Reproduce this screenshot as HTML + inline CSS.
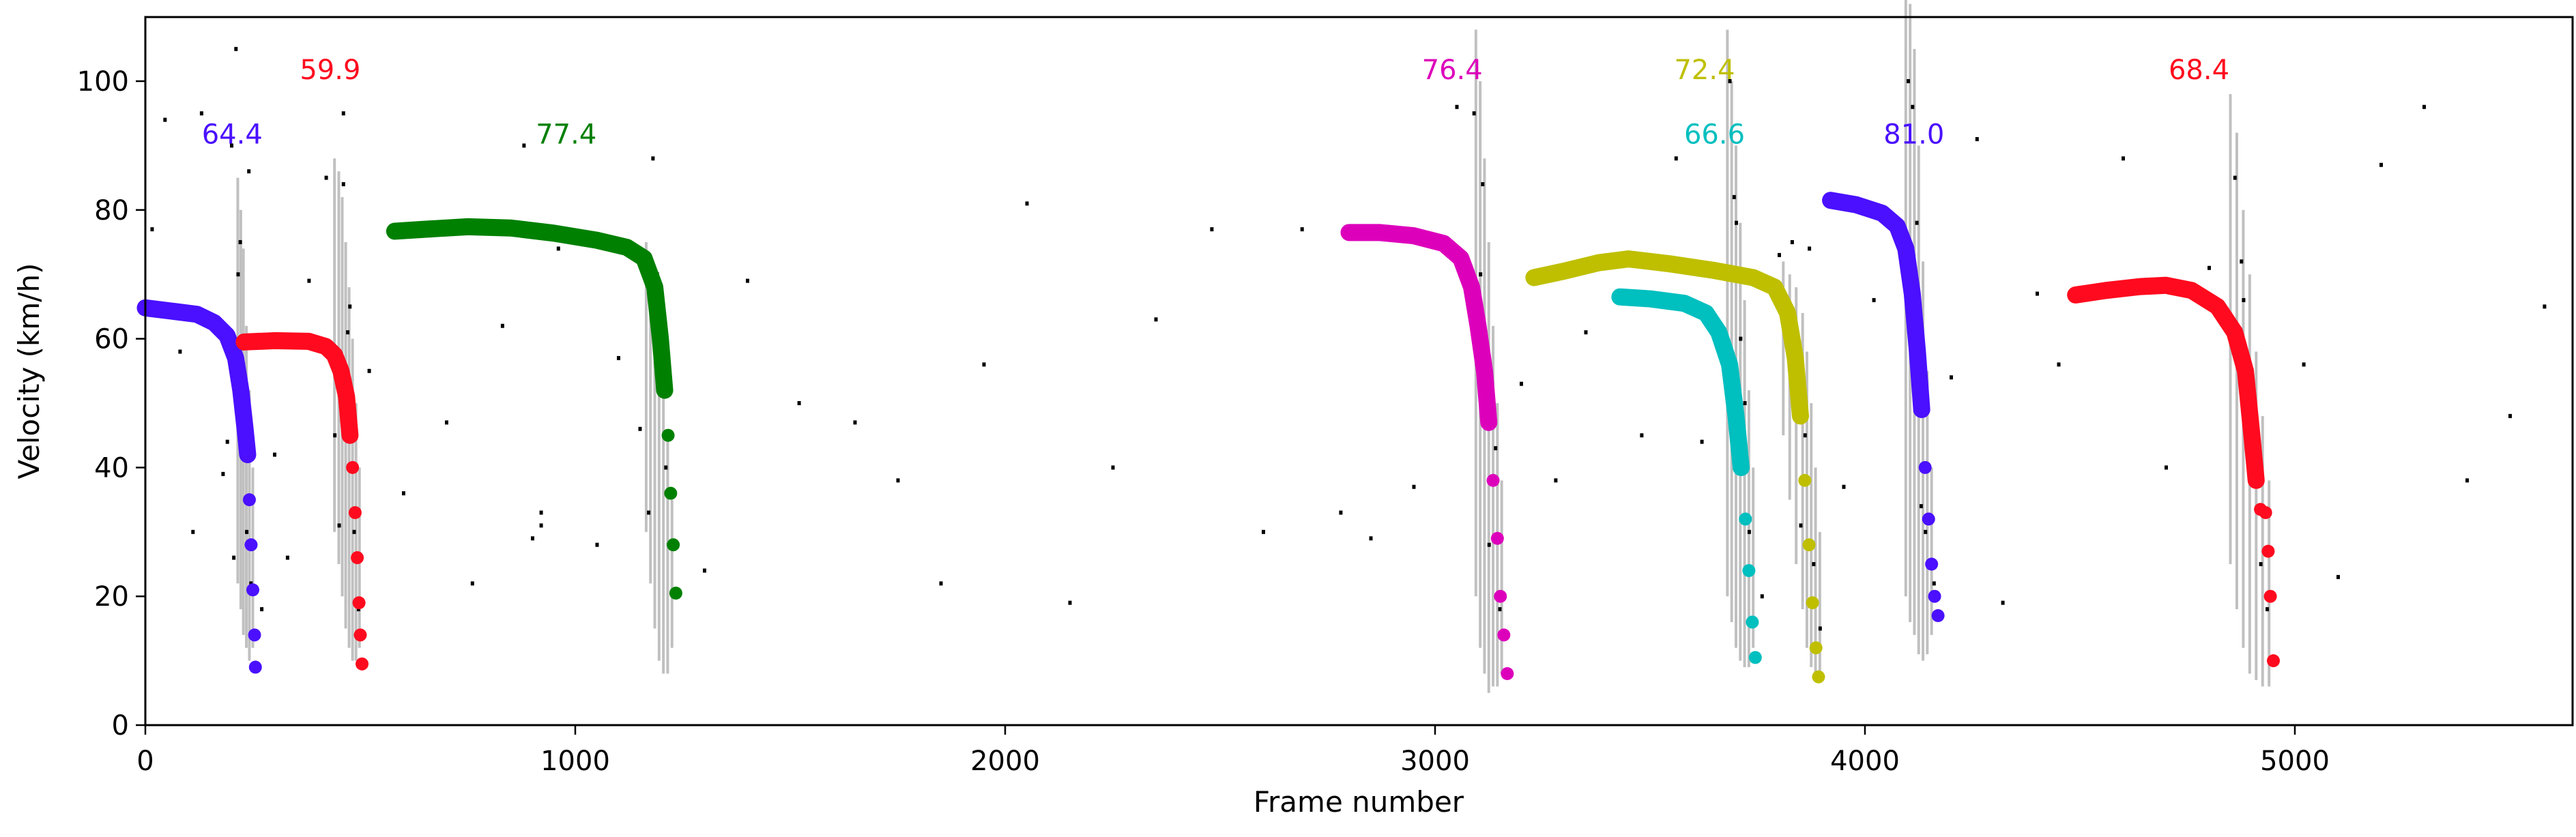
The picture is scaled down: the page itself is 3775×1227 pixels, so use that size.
<!DOCTYPE html>
<html><head><meta charset="utf-8">
<style>
html,body{margin:0;padding:0;background:#fff;}
svg text{font-family:"DejaVu Sans","Liberation Sans",sans-serif;}
</style></head>
<body>
<svg id="chart" width="3775" height="1222" viewBox="0 0 3775 1222" xmlns="http://www.w3.org/2000/svg">
<rect width="3775" height="1222" fill="#fff"/>
<g id="noise"></g>
<g id="tracks"></g>
<g id="labels"></g>
<rect x="213" y="25" width="3557" height="1038" fill="none" stroke="#000" stroke-width="3"/>
<g id="axes"></g>
<text x="1991" y="1190" font-size="42" text-anchor="middle">Frame number</text>
<text transform="translate(57,544) rotate(-90)" font-size="42" text-anchor="middle">Velocity (km/h)</text>
</svg>
<script>
const xTicks=[0,1000,2000,3000,4000,5000];
const yTicks=[0,20,40,60,80,100];
const trackNames=["blue-1","red-1","green","magenta","yellow","cyan","blue-2","red-2"];
const trackColors=["#4a10ff","#ff0a1e","#008000","#dd00bb","#bfbf00","#00bfbf","#4a10ff","#ff0a1e"];
const trackFrames=[
 [0,60,120,160,190,210,222,232,238,242,246,250,254,256],
 [230,300,380,420,440,455,468,476,482,488,493,497,500,504],
 [580,650,750,850,950,1050,1120,1160,1185,1198,1208,1216,1222,1228,1234],
 [2800,2870,2950,3020,3060,3085,3100,3115,3125,3135,3145,3152,3160,3168],
 [3230,3300,3380,3450,3550,3650,3740,3790,3820,3838,3850,3860,3870,3878,3886,3892],
 [3430,3500,3580,3630,3660,3685,3700,3712,3722,3730,3738,3745],
 [3920,3980,4040,4075,4095,4110,4122,4132,4140,4148,4155,4162,4170],
 [4490,4560,4640,4700,4760,4820,4860,4885,4900,4910,4920,4932,4938,4943,4950]
];
const trackValues=[
 [64.8,64.3,63.8,62.5,60.5,57,52,46,42,35,28,21,14,9],
 [59.5,59.7,59.6,58.8,57.5,55,51,45,40,33,26,19,14,9.5],
 [76.7,77.0,77.4,77.2,76.4,75.3,74.2,72.5,68,60,52,45,36,28,20.5],
 [76.5,76.5,76.0,74.8,72.5,68,62,55,47,38,29,20,14,8],
 [69.5,70.5,71.8,72.4,71.6,70.6,69.5,68,64,57,48,38,28,19,12,7.5],
 [66.5,66.2,65.5,64,61,56,48,40,32,24,16,10.5],
 [81.5,80.8,79.5,77.5,74,67,58,49,40,32,25,20,17],
 [66.8,67.5,68.1,68.3,67.5,65,61,55,45,38,33.5,33,27,20,10]
];
const trackSolid=[8,7,10,8,10,7,7,9];
const labelTexts=["64.4","59.9","77.4","76.4","72.4","66.6","81.0","68.4"];
const labelFrames=[202,430,979,3040,3627,3650,4114,4777];
const labelValues=[91.8,101.8,91.8,101.8,101.8,91.8,91.8,101.8];
const grayFrames=[215,222,228,235,242,250,440,450,458,466,474,482,490,498,1165,1175,1185,1195,1205,1215,1225,3095,3105,3115,3125,3135,3145,3155,3680,3690,3700,3710,3720,3730,3740,3810,3825,3840,3855,3865,3875,3885,3895,4095,4105,4115,4125,4135,4145,4155,4850,4865,4880,4895,4910,4925,4940];
const grayLow=[22,18,14,12,10,12,30,25,20,15,12,10,10,12,30,22,15,10,8,8,12,20,12,8,5,6,6,8,20,16,12,10,9,9,12,45,35,25,18,12,9,7,8,20,16,14,11,10,11,14,25,18,12,8,7,6,6];
const grayHigh=[85,80,74,62,52,40,88,86,82,75,68,60,50,40,75,72,66,58,52,44,35,108,100,88,75,62,50,38,108,100,90,78,66,52,40,72,70,68,64,58,50,40,30,115,112,105,90,72,55,40,98,92,80,70,58,48,38];
const dotFrames=[15,45,80,110,130,160,190,210,240,270,300,330,380,420,460,520,600,700,760,830,880,920,960,1050,1100,1300,1400,1520,1650,1750,1850,1950,2050,2150,2250,2350,2480,2600,2690,2780,2850,2950,3050,3200,3280,3350,3480,3560,3620,3760,3800,3950,4020,4200,4260,4320,4400,4450,4600,4700,4800,5020,5100,5200,5300,5400,5500,5580,180,205,215,450,470,3110,3140,3700,3720,4110,4130,4880,4910,1180,1200,3850,3870,200,220,235,245,225,460,475,485,495,440,1190,1210,1170,3090,3105,3125,3150,3685,3695,3710,3730,3830,3860,3880,3895,4100,4120,4140,4160,4860,4875,4895,4920,4935,900,920,1150];
const dotValues=[77,94,58,30,95,63,44,105,86,18,42,26,69,85,95,55,36,47,22,62,90,31,74,28,57,24,69,50,47,38,22,56,81,19,40,63,77,30,77,33,29,37,96,53,38,61,45,88,44,20,73,37,66,54,91,19,67,56,88,40,71,56,23,87,96,38,48,65,39,26,70,31,61,84,43,78,50,96,34,66,42,88,59,31,74,90,75,30,22,52,84,65,30,18,45,70,40,33,95,70,28,18,100,82,60,30,75,45,25,15,100,78,30,22,85,72,40,25,18,29,33,46];
const X0=213,PX=630,Y0=1063,PY=9.44;
const sx=f=>X0+f*PX/1000;
const sy=v=>Y0-v*PY;
const NS="http://www.w3.org/2000/svg";
function mk(t,a){const e=document.createElementNS(NS,t);for(const k in a)e.setAttribute(k,a[k]);return e;}
const noise=document.getElementById('noise');
grayFrames.forEach((f,i)=>{
 const l=mk('rect',{x:sx(f)-2,y:sy(grayHigh[i]),width:4,height:sy(grayLow[i])-sy(grayHigh[i]),fill:'#c0c0c0'});
 
 
 noise.appendChild(l);
});
dotFrames.forEach((f,i)=>{
 const d=mk('rect',{x:sx(f)-2,y:sy(dotValues[i])-3,width:5,height:6,fill:'#000'});
 
 
 noise.appendChild(d);
});
const tracks=document.getElementById('tracks');
trackFrames.forEach((fr,t)=>{
 const g=mk('g',{});
 
 
 const vals=trackValues[t];
 const pts=fr.map((f,i)=>sx(f)+','+sy(vals[i]));
 const nFlat=Math.min(trackSolid[t],fr.length-1);
 const line=mk('polyline',{points:pts.slice(0,nFlat+1).join(' '),fill:'none',stroke:trackColors[t],'stroke-width':25,'stroke-linecap':'round','stroke-linejoin':'round'});
 
 
 g.appendChild(line);
 fr.forEach((f,i)=>{
  const c=mk('circle',{cx:sx(f),cy:sy(vals[i]),r:i>nFlat?9.5:11,fill:trackColors[t]});
  
  
  g.appendChild(c);
 });
 tracks.appendChild(g);
});
const labels=document.getElementById('labels');
labelTexts.forEach((s,i)=>{
 const tx=mk('text',{x:sx(labelFrames[i]),y:sy(labelValues[i])+14,'font-size':40,'text-anchor':'middle',fill:trackColors[i]});
 tx.textContent=s;
 
 
 labels.appendChild(tx);
});
const axes=document.getElementById('axes');
xTicks.forEach(v=>{
 const l=mk('line',{x1:sx(v),x2:sx(v),y1:Y0,y2:Y0+14,stroke:'#000','stroke-width':2.5});
 
 
 axes.appendChild(l);
 const t=mk('text',{x:sx(v),y:1129,'font-size':40,'text-anchor':'middle'});
 t.textContent=v;
 
 
 axes.appendChild(t);
});
yTicks.forEach(v=>{
 const l=mk('line',{x1:X0-14,x2:X0,y1:sy(v),y2:sy(v),stroke:'#000','stroke-width':2.5});
 
 
 axes.appendChild(l);
 const t=mk('text',{x:X0-24,y:sy(v)+14,'font-size':40,'text-anchor':'end'});
 t.textContent=v;
 
 
 axes.appendChild(t);
});
</script>
</body></html>
